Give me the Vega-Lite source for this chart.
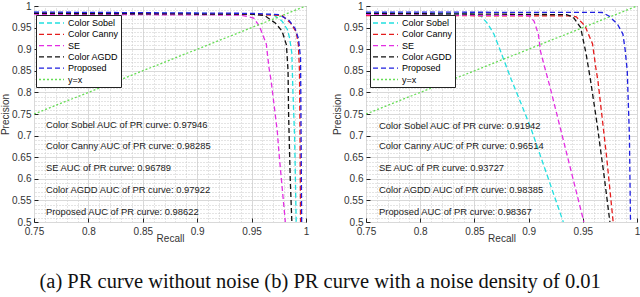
{
  "$schema": "https://vega.github.io/schema/vega-lite/v6.json",
  "background": "white",
  "padding": {"left": 0, "top": 0, "right": 0, "bottom": 2},
  "datasets": {
    "curves": [
      {"panel": "a", "method": "Color Sobel", "recall": 0.75, "precision": 0.985},
      {"panel": "a", "method": "Color Sobel", "recall": 0.95, "precision": 0.982},
      {"panel": "a", "method": "Color Sobel", "recall": 0.97, "precision": 0.98},
      {"panel": "a", "method": "Color Sobel", "recall": 0.978, "precision": 0.965},
      {"panel": "a", "method": "Color Sobel", "recall": 0.983, "precision": 0.945},
      {"panel": "a", "method": "Color Sobel", "recall": 0.985, "precision": 0.925},
      {"panel": "a", "method": "Color Sobel", "recall": 0.987, "precision": 0.89},
      {"panel": "a", "method": "Color Sobel", "recall": 0.988, "precision": 0.8},
      {"panel": "a", "method": "Color Sobel", "recall": 0.9895, "precision": 0.7},
      {"panel": "a", "method": "Color Sobel", "recall": 0.991, "precision": 0.5},
      {"panel": "a", "method": "Color Canny", "recall": 0.75, "precision": 0.984},
      {"panel": "a", "method": "Color Canny", "recall": 0.95, "precision": 0.981},
      {"panel": "a", "method": "Color Canny", "recall": 0.978, "precision": 0.978},
      {"panel": "a", "method": "Color Canny", "recall": 0.986, "precision": 0.96},
      {"panel": "a", "method": "Color Canny", "recall": 0.991, "precision": 0.94},
      {"panel": "a", "method": "Color Canny", "recall": 0.993, "precision": 0.91},
      {"panel": "a", "method": "Color Canny", "recall": 0.994, "precision": 0.85},
      {"panel": "a", "method": "Color Canny", "recall": 0.9945, "precision": 0.7},
      {"panel": "a", "method": "Color Canny", "recall": 0.995, "precision": 0.5},
      {"panel": "a", "method": "SE", "recall": 0.75, "precision": 0.981},
      {"panel": "a", "method": "SE", "recall": 0.94, "precision": 0.979},
      {"panel": "a", "method": "SE", "recall": 0.952, "precision": 0.972},
      {"panel": "a", "method": "SE", "recall": 0.957, "precision": 0.954},
      {"panel": "a", "method": "SE", "recall": 0.96, "precision": 0.935},
      {"panel": "a", "method": "SE", "recall": 0.9635, "precision": 0.912},
      {"panel": "a", "method": "SE", "recall": 0.966, "precision": 0.857},
      {"panel": "a", "method": "SE", "recall": 0.968, "precision": 0.826},
      {"panel": "a", "method": "SE", "recall": 0.9736, "precision": 0.71},
      {"panel": "a", "method": "SE", "recall": 0.9754, "precision": 0.653},
      {"panel": "a", "method": "SE", "recall": 0.981, "precision": 0.5},
      {"panel": "a", "method": "Color AGDD", "recall": 0.75, "precision": 0.983},
      {"panel": "a", "method": "Color AGDD", "recall": 0.95, "precision": 0.981},
      {"panel": "a", "method": "Color AGDD", "recall": 0.962, "precision": 0.978},
      {"panel": "a", "method": "Color AGDD", "recall": 0.972, "precision": 0.96},
      {"panel": "a", "method": "Color AGDD", "recall": 0.978, "precision": 0.942},
      {"panel": "a", "method": "Color AGDD", "recall": 0.982, "precision": 0.91},
      {"panel": "a", "method": "Color AGDD", "recall": 0.9835, "precision": 0.85},
      {"panel": "a", "method": "Color AGDD", "recall": 0.984, "precision": 0.75},
      {"panel": "a", "method": "Color AGDD", "recall": 0.9855, "precision": 0.6},
      {"panel": "a", "method": "Color AGDD", "recall": 0.987, "precision": 0.5},
      {"panel": "a", "method": "Proposed", "recall": 0.75, "precision": 0.986},
      {"panel": "a", "method": "Proposed", "recall": 0.95, "precision": 0.983},
      {"panel": "a", "method": "Proposed", "recall": 0.975, "precision": 0.98},
      {"panel": "a", "method": "Proposed", "recall": 0.984, "precision": 0.968},
      {"panel": "a", "method": "Proposed", "recall": 0.99, "precision": 0.948},
      {"panel": "a", "method": "Proposed", "recall": 0.993, "precision": 0.925},
      {"panel": "a", "method": "Proposed", "recall": 0.995, "precision": 0.88},
      {"panel": "a", "method": "Proposed", "recall": 0.9955, "precision": 0.7},
      {"panel": "a", "method": "Proposed", "recall": 0.996, "precision": 0.5},
      {"panel": "a", "method": "y=x", "recall": 0.75, "precision": 0.75},
      {"panel": "a", "method": "y=x", "recall": 1.0, "precision": 1.0},
      {"panel": "b", "method": "Color Sobel", "recall": 0.75, "precision": 0.984},
      {"panel": "b", "method": "Color Sobel", "recall": 0.85, "precision": 0.981},
      {"panel": "b", "method": "Color Sobel", "recall": 0.856, "precision": 0.977},
      {"panel": "b", "method": "Color Sobel", "recall": 0.862, "precision": 0.96},
      {"panel": "b", "method": "Color Sobel", "recall": 0.868, "precision": 0.935},
      {"panel": "b", "method": "Color Sobel", "recall": 0.8745, "precision": 0.893},
      {"panel": "b", "method": "Color Sobel", "recall": 0.884, "precision": 0.83},
      {"panel": "b", "method": "Color Sobel", "recall": 0.891, "precision": 0.787},
      {"panel": "b", "method": "Color Sobel", "recall": 0.902, "precision": 0.718},
      {"panel": "b", "method": "Color Sobel", "recall": 0.932, "precision": 0.5},
      {"panel": "b", "method": "Color Canny", "recall": 0.75, "precision": 0.978},
      {"panel": "b", "method": "Color Canny", "recall": 0.94, "precision": 0.977},
      {"panel": "b", "method": "Color Canny", "recall": 0.944, "precision": 0.975},
      {"panel": "b", "method": "Color Canny", "recall": 0.952, "precision": 0.954},
      {"panel": "b", "method": "Color Canny", "recall": 0.959, "precision": 0.912},
      {"panel": "b", "method": "Color Canny", "recall": 0.962, "precision": 0.857},
      {"panel": "b", "method": "Color Canny", "recall": 0.964, "precision": 0.826},
      {"panel": "b", "method": "Color Canny", "recall": 0.972, "precision": 0.65},
      {"panel": "b", "method": "Color Canny", "recall": 0.978, "precision": 0.5},
      {"panel": "b", "method": "SE", "recall": 0.75, "precision": 0.98},
      {"panel": "b", "method": "SE", "recall": 0.9, "precision": 0.978},
      {"panel": "b", "method": "SE", "recall": 0.905, "precision": 0.965},
      {"panel": "b", "method": "SE", "recall": 0.909, "precision": 0.935},
      {"panel": "b", "method": "SE", "recall": 0.911, "precision": 0.895},
      {"panel": "b", "method": "SE", "recall": 0.914, "precision": 0.866},
      {"panel": "b", "method": "SE", "recall": 0.92, "precision": 0.81},
      {"panel": "b", "method": "SE", "recall": 0.935, "precision": 0.66},
      {"panel": "b", "method": "SE", "recall": 0.951, "precision": 0.5},
      {"panel": "b", "method": "Color AGDD", "recall": 0.75, "precision": 0.983},
      {"panel": "b", "method": "Color AGDD", "recall": 0.935, "precision": 0.98},
      {"panel": "b", "method": "Color AGDD", "recall": 0.941, "precision": 0.975},
      {"panel": "b", "method": "Color AGDD", "recall": 0.948, "precision": 0.95},
      {"panel": "b", "method": "Color AGDD", "recall": 0.953, "precision": 0.89},
      {"panel": "b", "method": "Color AGDD", "recall": 0.957, "precision": 0.83},
      {"panel": "b", "method": "Color AGDD", "recall": 0.963, "precision": 0.73},
      {"panel": "b", "method": "Color AGDD", "recall": 0.97, "precision": 0.6},
      {"panel": "b", "method": "Color AGDD", "recall": 0.975, "precision": 0.5},
      {"panel": "b", "method": "Proposed", "recall": 0.75, "precision": 0.986},
      {"panel": "b", "method": "Proposed", "recall": 0.968, "precision": 0.985},
      {"panel": "b", "method": "Proposed", "recall": 0.974, "precision": 0.977},
      {"panel": "b", "method": "Proposed", "recall": 0.982, "precision": 0.958},
      {"panel": "b", "method": "Proposed", "recall": 0.987, "precision": 0.935},
      {"panel": "b", "method": "Proposed", "recall": 0.989, "precision": 0.9},
      {"panel": "b", "method": "Proposed", "recall": 0.991, "precision": 0.85},
      {"panel": "b", "method": "Proposed", "recall": 0.993, "precision": 0.7},
      {"panel": "b", "method": "Proposed", "recall": 0.994, "precision": 0.5},
      {"panel": "b", "method": "y=x", "recall": 0.75, "precision": 0.75},
      {"panel": "b", "method": "y=x", "recall": 1.0, "precision": 1.0}
    ],
    "notes": [
      {"panel": "a", "label": "Color Sobel AUC of PR curve: 0.97946", "recall": 0.761, "precision": 0.725},
      {"panel": "a", "label": "Color Canny AUC of PR curve: 0.98285", "recall": 0.761, "precision": 0.675},
      {"panel": "a", "label": "SE AUC of PR curve: 0.96789", "recall": 0.761, "precision": 0.625},
      {"panel": "a", "label": "Color AGDD AUC of PR curve: 0.97922", "recall": 0.761, "precision": 0.574},
      {"panel": "a", "label": "Proposed AUC of PR curve: 0.98622", "recall": 0.761, "precision": 0.523},
      {"panel": "b", "label": "Color Sobel AUC of PR curve: 0.91942", "recall": 0.762, "precision": 0.723},
      {"panel": "b", "label": "Color Canny AUC of PR curve: 0.96514", "recall": 0.762, "precision": 0.675},
      {"panel": "b", "label": "SE AUC of PR curve: 0.93727", "recall": 0.762, "precision": 0.625},
      {"panel": "b", "label": "Color AGDD AUC of PR curve: 0.98385", "recall": 0.762, "precision": 0.574},
      {"panel": "b", "label": "Proposed AUC of PR curve: 0.98367", "recall": 0.762, "precision": 0.523}
    ]
  },
  "hconcat": [
    {
      "width": 272,
      "height": 216,
      "layer": [
        {
          "data": {"name": "curves"},
          "transform": [{"filter": "datum.panel === 'a'"}],
          "mark": {"type": "line", "opacity": 0},
          "encoding": {
            "x": {"field": "recall", "type": "quantitative", "scale": {"domain": [0.75, 1], "nice": false, "zero": false},
              "axis": {"orient": "top", "values": [0.76,0.77,0.78,0.79,0.81,0.82,0.83,0.84,0.86,0.87,0.88,0.89,0.91,0.92,0.93,0.94,0.96,0.97,0.98,0.99], "grid": true, "gridDash": [1, 2], "gridColor": "#c8c8c8", "labels": false, "ticks": false, "domain": false, "title": null}},
            "y": {"field": "precision", "type": "quantitative", "scale": {"domain": [0.5, 1], "nice": false, "zero": false},
              "axis": {"orient": "right", "values": [0.51,0.52,0.53,0.54,0.56,0.57,0.58,0.59,0.61,0.62,0.63,0.64,0.66,0.67,0.68,0.69,0.71,0.72,0.73,0.74,0.76,0.77,0.78,0.79,0.81,0.82,0.83,0.84,0.86,0.87,0.88,0.89,0.91,0.92,0.93,0.94,0.96,0.97,0.98,0.99], "grid": true, "gridDash": [1, 2], "gridColor": "#c8c8c8", "labels": false, "ticks": false, "domain": false, "title": null}},
            "detail": {"field": "method"}
          }
        },
        {
          "data": {"name": "curves"},
          "transform": [{"filter": "datum.panel === 'a'"}],
          "mark": {"type": "line", "strokeWidth": 1.3, "clip": true},
          "encoding": {
            "x": {"field": "recall", "type": "quantitative", "scale": {"domain": [0.75, 1], "nice": false, "zero": false},
              "axis": {"orient": "bottom", "values": [0.75, 0.8, 0.85, 0.9, 0.95, 1], "format": "~g", "labelFlush": false, "title": "Recall", "grid": true, "gridColor": "#d9d9d9", "tickSize": -4, "tickColor": "#222", "domain": false, "labelPadding": 8, "titlePadding": -3}},
            "y": {"field": "precision", "type": "quantitative", "scale": {"domain": [0.5, 1], "nice": false, "zero": false},
              "axis": {"orient": "left", "values": [0.5, 0.55, 0.6, 0.65, 0.7, 0.75, 0.8, 0.85, 0.9, 0.95, 1], "format": "~g", "labelFlush": false, "title": "Precision", "grid": true, "gridColor": "#d9d9d9", "tickSize": -4, "tickColor": "#222", "domain": false, "labelPadding": 7, "titlePadding": 1}},
            "color": {"field": "method", "type": "nominal", "title": null,
              "scale": {"domain": ["Color Sobel", "Color Canny", "SE", "Color AGDD", "Proposed", "y=x"], "range": ["#22e0e0", "#e41c1c", "#e22ee2", "#111111", "#1f1fe0", "#66dd55"]},
              "legend": {"orient": "none", "legendX": 2, "legendY": 9, "symbolType": "M-1,0H4", "symbolSize": 100, "symbolStrokeWidth": 1.3, "labelFontSize": 9, "labelFont": "Liberation Sans", "fillColor": "white", "strokeColor": "#222", "padding": 2, "rowPadding": 0.3, "labelOffset": 18, "zindex": 5}},
            "strokeDash": {"field": "method", "type": "nominal", "title": null,
              "scale": {"domain": ["Color Sobel", "Color Canny", "SE", "Color AGDD", "Proposed", "y=x"], "range": [[5, 3], [5, 3], [5, 3], [5, 3], [5, 3], [2, 2]]}}
          }
        },
        {
          "data": {"name": "notes"},
          "transform": [{"filter": "datum.panel === 'a'"}],
          "mark": {"type": "text", "align": "left", "baseline": "middle", "fontSize": 9.4, "font": "Liberation Sans", "color": "#222"},
          "encoding": {
            "x": {"field": "recall", "type": "quantitative", "axis": null},
            "y": {"field": "precision", "type": "quantitative", "axis": null},
            "text": {"field": "label"}
          }
        }
      ],
      "resolve": {"axis": {"x": "independent", "y": "independent"}}
    },
    {
      "width": 271,
      "height": 216,
      "layer": [
        {
          "data": {"name": "curves"},
          "transform": [{"filter": "datum.panel === 'b'"}],
          "mark": {"type": "line", "opacity": 0},
          "encoding": {
            "x": {"field": "recall", "type": "quantitative", "scale": {"domain": [0.75, 1], "nice": false, "zero": false},
              "axis": {"orient": "top", "values": [0.76,0.77,0.78,0.79,0.81,0.82,0.83,0.84,0.86,0.87,0.88,0.89,0.91,0.92,0.93,0.94,0.96,0.97,0.98,0.99], "grid": true, "gridDash": [1, 2], "gridColor": "#c8c8c8", "labels": false, "ticks": false, "domain": false, "title": null}},
            "y": {"field": "precision", "type": "quantitative", "scale": {"domain": [0.5, 1], "nice": false, "zero": false},
              "axis": {"orient": "right", "values": [0.51,0.52,0.53,0.54,0.56,0.57,0.58,0.59,0.61,0.62,0.63,0.64,0.66,0.67,0.68,0.69,0.71,0.72,0.73,0.74,0.76,0.77,0.78,0.79,0.81,0.82,0.83,0.84,0.86,0.87,0.88,0.89,0.91,0.92,0.93,0.94,0.96,0.97,0.98,0.99], "grid": true, "gridDash": [1, 2], "gridColor": "#c8c8c8", "labels": false, "ticks": false, "domain": false, "title": null}},
            "detail": {"field": "method"}
          }
        },
        {
          "data": {"name": "curves"},
          "transform": [{"filter": "datum.panel === 'b'"}],
          "mark": {"type": "line", "strokeWidth": 1.3, "clip": true},
          "encoding": {
            "x": {"field": "recall", "type": "quantitative", "scale": {"domain": [0.75, 1], "nice": false, "zero": false},
              "axis": {"orient": "bottom", "values": [0.75, 0.8, 0.85, 0.9, 0.95, 1], "format": "~g", "labelFlush": false, "title": "Recall", "grid": true, "gridColor": "#d9d9d9", "tickSize": -4, "tickColor": "#222", "domain": false, "labelPadding": 8, "titlePadding": -3}},
            "y": {"field": "precision", "type": "quantitative", "scale": {"domain": [0.5, 1], "nice": false, "zero": false},
              "axis": {"orient": "left", "values": [0.5, 0.55, 0.6, 0.65, 0.7, 0.75, 0.8, 0.85, 0.9, 0.95, 1], "format": "~g", "labelFlush": false, "title": "Precision", "grid": true, "gridColor": "#d9d9d9", "tickSize": -4, "tickColor": "#222", "domain": false, "labelPadding": 7, "titlePadding": 1}},
            "color": {"field": "method", "type": "nominal", "title": null,
              "scale": {"domain": ["Color Sobel", "Color Canny", "SE", "Color AGDD", "Proposed", "y=x"], "range": ["#22e0e0", "#e41c1c", "#e22ee2", "#111111", "#1f1fe0", "#66dd55"]},
              "legend": {"orient": "none", "legendX": 4, "legendY": 9, "symbolType": "M-1,0H4", "symbolSize": 100, "symbolStrokeWidth": 1.3, "labelFontSize": 9, "labelFont": "Liberation Sans", "fillColor": "white", "strokeColor": "#222", "padding": 2, "rowPadding": 0.3, "labelOffset": 18, "zindex": 5}},
            "strokeDash": {"field": "method", "type": "nominal", "title": null,
              "scale": {"domain": ["Color Sobel", "Color Canny", "SE", "Color AGDD", "Proposed", "y=x"], "range": [[5, 3], [5, 3], [5, 3], [5, 3], [5, 3], [2, 2]]}}
          }
        },
        {
          "data": {"name": "notes"},
          "transform": [{"filter": "datum.panel === 'b'"}],
          "mark": {"type": "text", "align": "left", "baseline": "middle", "fontSize": 9.4, "font": "Liberation Sans", "color": "#222"},
          "encoding": {
            "x": {"field": "recall", "type": "quantitative", "axis": null},
            "y": {"field": "precision", "type": "quantitative", "axis": null},
            "text": {"field": "label"}
          }
        }
      ],
      "resolve": {"axis": {"x": "independent", "y": "independent"}}
    }
  ],
  "spacing": 22,
  "resolve": {"scale": {"color": "independent", "strokeDash": "independent"}},
  "title": {"text": "(a) PR curve without noise (b) PR curve with a noise density of 0.01", "orient": "bottom", "anchor": "middle", "font": "Liberation Serif", "fontSize": 20.5, "fontWeight": "normal", "color": "#111", "offset": 28},
  "config": {
    "view": {"stroke": "#222", "strokeWidth": 1},
    "legend": {"strokeColor": "#222", "fillColor": "white", "strokeWidth": 1},
    "axis": {"labelFont": "Liberation Sans", "labelFontSize": 10, "labelColor": "#333", "titleFont": "Liberation Sans", "titleFontSize": 10, "titleFontWeight": "normal", "titleColor": "#333"}
  }
}
